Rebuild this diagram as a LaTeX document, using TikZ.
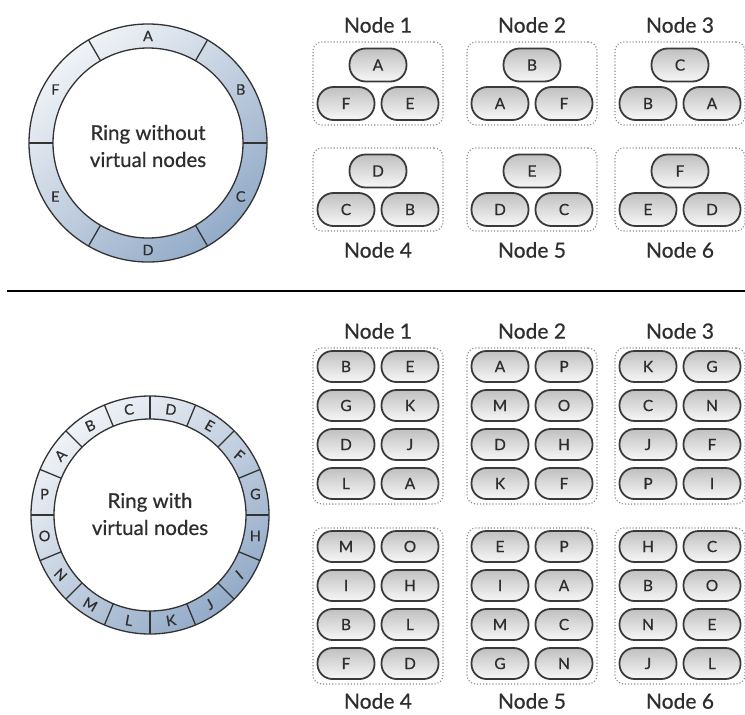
\documentclass[tikz,border=0pt]{standalone}
\usepackage{fontspec}
\setmainfont[FakeBold=0.6]{Lato}
\usetikzlibrary{calc}
\definecolor{ink}{HTML}{2E2E2E}
\definecolor{ringline}{HTML}{333333}
\definecolor{ringlight}{HTML}{F0F3F7}
\definecolor{ringdark}{HTML}{93ABC8}
\definecolor{pilltop}{HTML}{C0C0C0}
\definecolor{pillbot}{HTML}{F7F7F7}
\definecolor{pillline}{HTML}{3A3A3A}
\definecolor{boxline}{HTML}{8A8A8A}
\begin{document}
\begin{tikzpicture}[x=1pt,y=-1pt,
  ringdraw/.style={draw=ringline,line width=1.3pt},
  ringlab/.style={text=ink,font=\fontsize{14.5}{14.5}\selectfont,inner sep=0pt},
  centertext/.style={text=ink,align=center,font=\fontsize{20.5}{27}\selectfont},
  pillbig/.style={draw=pillline,line width=1.8pt,rounded corners=16pt,
    minimum width=57pt,minimum height=33pt,inner sep=0pt,
    top color=pilltop,bottom color=pillbot,text=ink,
    font=\fontsize{15.5}{15.5}\selectfont},
  pillsmall/.style={pillbig,minimum height=31pt,rounded corners=15pt},
  groupbox/.style={draw=boxline,dotted,line width=1.1pt,rounded corners=9pt,
    minimum width=130pt,inner sep=0pt},
  grouplabel/.style={text=ink,font=\fontsize{21}{21}\selectfont,inner sep=0pt}]
\useasboundingbox (0,0) rectangle (745,715);
\fill[white] (0,0) rectangle (745,715);

% ---------- top ring ----------
\coordinate (r1) at (148,143);
\shade[even odd rule,top color=ringlight,bottom color=ringdark,shading angle=40]
  (r1) circle (119pt) (r1) circle (95pt);
\draw[ringdraw] (r1) circle (119pt) (r1) circle (95pt);
\foreach \a in {0,60,...,300}
  \draw[ringdraw] ($(r1)+(\a:95pt)$) -- ($(r1)+(\a:119pt)$);
\foreach \l/\a in {A/90,B/30,C/-30,D/-90,E/-150,F/150}
  \node[ringlab] (t\l) at ($(r1)+(\a:107pt)$) {\l};
\node[centertext] (c1) at (148,146) {Ring without\\virtual nodes};

% ---------- divider ----------
\coordinate (d1) at (7,291);
\coordinate (d2) at (745,291);
\draw[line width=2.6pt,black] (d1) -- (d2);

% ---------- bottom ring ----------
\coordinate (r2) at (150,515);
\shade[even odd rule,top color=ringlight,bottom color=ringdark,shading angle=40]
  (r2) circle (119pt) (r2) circle (96pt);
\draw[ringdraw] (r2) circle (119pt) (r2) circle (96pt);
\foreach \k in {0,...,15}
  \draw[ringdraw] ($(r2)+(90-22.5*\k:96pt)$) -- ($(r2)+(90-22.5*\k:119pt)$);
\foreach \l/\a/\r in {A/146.25/45,B/123.75/25,C/101.25/8,D/78.75/-8,
    E/56.25/-30,F/33.75/-40,G/11.25/0,H/-11.25/0,I/-33.75/40,
    J/-56.25/30,K/-78.75/10,L/-101.25/-10,M/-123.75/-30,
    N/-146.25/-45,O/-168.75/0,P/168.75/0}
  \node[ringlab,rotate=\r] (b\l) at ($(r2)+(\a:107.5pt)$) {\l};
\node[centertext] (c2) at (150,514) {Ring with\\virtual nodes};

% ---------- top groups ----------
\foreach \n/\cx/\yt/\ly/\p/\q/\s in {
    1/378/42/25/A/F/E, 2/532/42/25/B/A/F, 3/680/42/25/C/B/A,
    4/378/148/250/D/C/B, 5/532/148/250/E/D/C, 6/680/148/250/F/E/D}{
  \node[groupbox,minimum height=83pt] (tg\n) at (\cx,\yt+41.5) {};
  \node[pillbig] (tg\n a) at (\cx,\yt+23) {\p};
  \node[pillbig] (tg\n b) at (\cx-32,\yt+61.5) {\q};
  \node[pillbig] (tg\n c) at (\cx+32,\yt+61.5) {\s};
  \node[grouplabel] (tl\n) at (\cx,\ly) {Node \n};
}

% ---------- bottom groups ----------
\foreach \n/\cx/\yt/\ly/\a/\b/\c/\d/\e/\f/\g/\h in {
    1/378/348/331/B/E/G/K/D/J/L/A,
    2/532/348/331/A/P/M/O/D/H/K/F,
    3/680/348/331/K/G/C/N/J/F/P/I,
    4/378/528/701/M/O/I/H/B/L/F/D,
    5/532/528/701/E/P/I/A/M/C/G/N,
    6/680/528/701/H/C/B/O/N/E/J/L}{
  \node[groupbox,minimum height=156pt] (bg\n) at (\cx,\yt+78) {};
  \node[pillsmall] (bg\n p1) at (\cx-32,\yt+18.5) {\a};
  \node[pillsmall] (bg\n p2) at (\cx+32,\yt+18.5) {\b};
  \node[pillsmall] (bg\n p3) at (\cx-32,\yt+57.5) {\c};
  \node[pillsmall] (bg\n p4) at (\cx+32,\yt+57.5) {\d};
  \node[pillsmall] (bg\n p5) at (\cx-32,\yt+96.5) {\e};
  \node[pillsmall] (bg\n p6) at (\cx+32,\yt+96.5) {\f};
  \node[pillsmall] (bg\n p7) at (\cx-32,\yt+135.5) {\g};
  \node[pillsmall] (bg\n p8) at (\cx+32,\yt+135.5) {\h};
  \node[grouplabel] (bl\n) at (\cx,\ly) {Node \n};
}
\end{tikzpicture}
\end{document}
